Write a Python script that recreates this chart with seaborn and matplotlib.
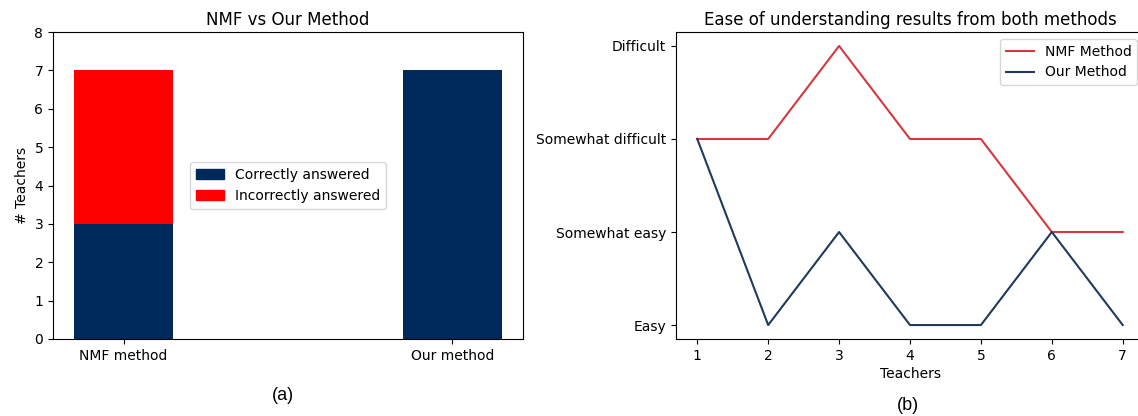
import numpy as np
import pandas as pd
import matplotlib
matplotlib.use("Agg")
import matplotlib.pyplot as plt
import matplotlib.patches as mpatches
import seaborn as sns

# ---- data ----
methods = ["NMF method", "Our method"]
correct = [3, 7]
incorrect = [4, 0]

teachers = [1, 2, 3, 4, 5, 6, 7]
ease_levels = ["Easy", "Somewhat easy", "Somewhat difficult", "Difficult"]
nmf_ease = [2, 2, 3, 2, 2, 1, 1]
our_ease = [2, 0, 1, 0, 0, 1, 0]

navy = "#00295c"
red = "#ff0000"
line_red = "#d5383f"
line_blue = "#1f3a5c"

plt.rcParams["font.family"] = ["DejaVu Sans"]
W, H = 1138, 416
fig = plt.figure(figsize=(W / 100, H / 100), dpi=100)

def ax_rect(l, r, t, b):
    return [l / W, (H - b) / H, (r - l) / W, (b - t) / H]

# ---- left panel ----
ax1 = fig.add_axes(ax_rect(53, 523, 32, 339))
totals = [c + i for c, i in zip(correct, incorrect)]
df_tot = pd.DataFrame({"method": methods, "value": totals})
df_cor = pd.DataFrame({"method": methods, "value": correct})
sns.barplot(data=df_tot, x="method", y="value", color=red, width=0.3,
            saturation=1, ax=ax1, errorbar=None)
sns.barplot(data=df_cor, x="method", y="value", color=navy, width=0.3,
            saturation=1, ax=ax1, errorbar=None)
ax1.set_xlim(-0.215, 1.215)
ax1.set_ylim(0, 8)
ax1.set_yticks(range(0, 9))
ax1.set_xlabel("")
ax1.set_ylabel("# Teachers", fontsize=10)
ax1.set_title("NMF vs Our Method", fontsize=12, pad=5)
ax1.tick_params(labelsize=10)
handles = [mpatches.Patch(color=navy, label="Correctly answered"),
           mpatches.Patch(color=red, label="Incorrectly answered")]
ax1.legend(handles=handles, loc="center", fontsize=10)
fig.text(283 / W, 1 - 395 / H, "(a)", ha="center", va="center",
         fontsize=13, family="Liberation Sans")

# ---- right panel ----
ax2 = fig.add_axes(ax_rect(676, 1144, 32, 339))
df_l = pd.DataFrame({
    "Teachers": teachers * 2,
    "ease": nmf_ease + our_ease,
    "Method": ["NMF Method"] * len(teachers) + ["Our Method"] * len(teachers),
})
sns.lineplot(data=df_l, x="Teachers", y="ease", hue="Method",
             palette={"NMF Method": line_red, "Our Method": line_blue},
             ax=ax2, linewidth=1.5)
ax2.set_yticks(range(len(ease_levels)))
ax2.set_yticklabels(ease_levels)
ax2.set_xticks(teachers)
ax2.set_xlim(0.7, 7.3)
ax2.set_ylim(-0.15, 3.15)
ax2.set_ylabel("")
ax2.set_xlabel("Teachers", fontsize=10, labelpad=3)
ax2.set_title("Ease of understanding results from both methods", fontsize=12, pad=5)
ax2.tick_params(labelsize=10)
ax2.legend(title=None, loc="upper right", fontsize=10)
fig.text(908 / W, 1 - 405 / H, "(b)", ha="center", va="center",
         fontsize=13, family="Liberation Sans")

fig.savefig("out.png", dpi=100)
